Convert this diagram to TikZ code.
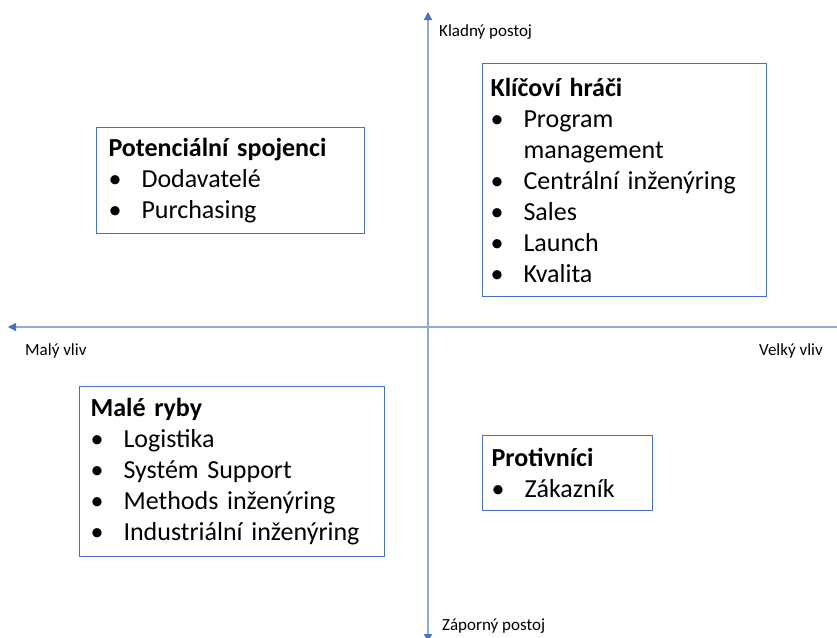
\documentclass[tikz,border=0pt]{standalone}
\usepackage{fontspec}
\setmainfont{Carlito}
\usetikzlibrary{arrows.meta}
\definecolor{boxblue}{HTML}{4472C4}
\definecolor{axisblue}{HTML}{8FAADC}

\begin{document}
\begin{tikzpicture}[x=1pt,y=-1pt,
  quad/.style={draw=boxblue,line width=1.1pt,anchor=north west,align=left,
    inner ysep=0pt,font=\fontsize{26}{31}\selectfont},
  axis/.style={draw=axisblue,line width=1.3pt,
    {Triangle[length=8pt,width=8pt,color=boxblue]}-{Triangle[length=8pt,width=8pt,color=boxblue]}},
  lbl/.style={anchor=base west,inner sep=0pt,font=\fontsize{17}{20}\selectfont}]
  \def\itm#1{\makebox[33pt][l]{\textbullet}#1}
  \useasboundingbox (0,0) rectangle (837,637);

  \coordinate (up) at (428,12);
  \coordinate (down) at (428,642);
  \coordinate (left) at (8,327);
  \coordinate (right) at (845,327);
  \draw[axis] (down) -- (up);
  \draw[axis] (right) -- (left);

  \node[lbl] (kladny) at (439,36) {Kladný postoj};
  \node[lbl] (zaporny) at (442,630) {Záporný postoj};
  \node[lbl] (maly) at (25,355) {Malý vliv};
  \node[lbl] (velky) at (759,355) {Velký vliv};

  \node[quad,inner xsep=8pt,text width=268pt,minimum height=233pt] (klicovi) at (482,63)
    {\textbf{Klíčoví hráči}\\\itm{Program}\\\hspace*{33pt}management\\\itm{Centrální inženýring}\\
     \itm{Sales}\\\itm{Launch}\\\itm{Kvalita}};
  \node[quad,inner xsep=12pt,text width=244pt,minimum height=106pt] (spojenci) at (96,127)
    {\textbf{Potenciální spojenci}\\\itm{Dodavatelé}\\\itm{Purchasing}};
  \node[quad,inner xsep=11pt,text width=283pt,minimum height=170pt] (ryby) at (79,386)
    {\textbf{Malé ryby}\\\itm{Logistika}\\\itm{Systém Support}\\\itm{Methods inženýring}\\
     \itm{Industriální inženýring}};
  \node[quad,inner xsep=9pt,text width=152pt,minimum height=75pt] (protivnici) at (482,435)
    {\textbf{Protivníci}\\\itm{Zákazník}};
\end{tikzpicture}
\end{document}
